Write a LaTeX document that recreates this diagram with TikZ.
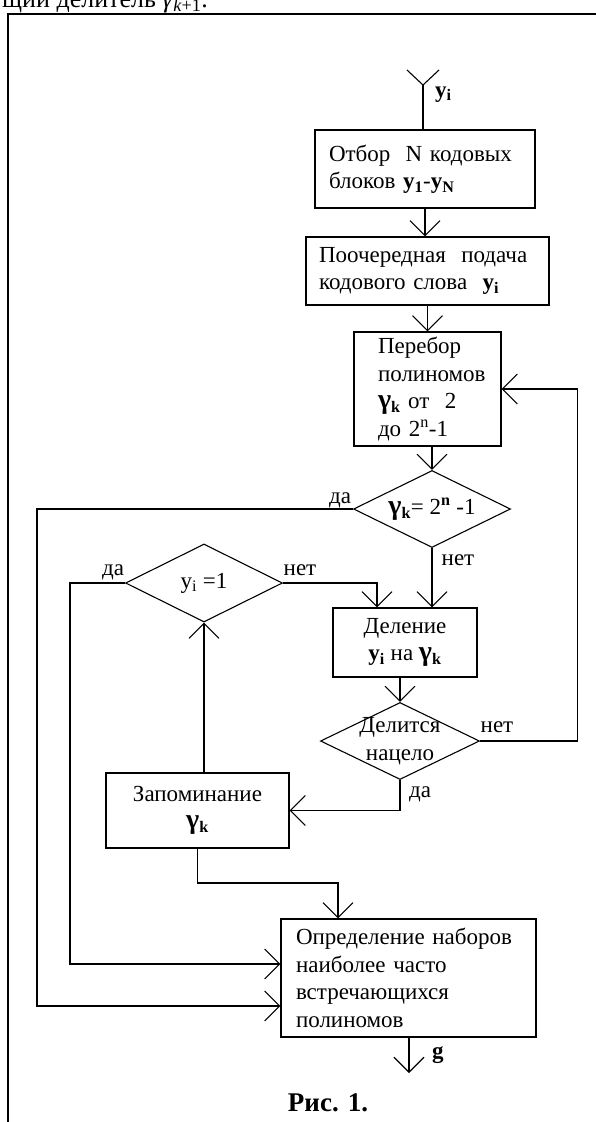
\documentclass[tikz,border=0pt]{standalone}
\usepackage{fontspec}
\setmainfont{Liberation Serif}
\usetikzlibrary{arrows.meta,shapes.geometric}
\newcommand\bY[1]{\textbf{y}\textsubscript{\textbf{#1}}}
\newcommand\bG[1]{{\fontsize{28}{28}\selectfont\textbf{γ}}\textsubscript{\textbf{#1}}}
\begin{document}
\begin{tikzpicture}[x=1pt,y=-1pt,
  every node/.style={font=\fontsize{23}{27.5}\selectfont},
  line/.style={line width=1.1pt},
  arr/.style={line, -{Straight Barb[length=15pt,width=30pt,line width=1.1pt]}},
  box/.style={draw, line width=1.1pt, rectangle, inner sep=0pt},
  dia/.style={draw, line width=1.1pt, diamond, inner sep=0pt},
  lbl/.style={anchor=base, inner sep=0pt}]
\useasboundingbox (0,0) rectangle (596,1122);
\begin{scope}
\clip (0,0) rectangle (596,1122);
\node[anchor=base west, inner sep=0pt, font=\fontsize{26}{30}\selectfont] (top) at (2,7) {щий делитель \textit{γ}\textsubscript{\textit{k}+1}.};
\end{scope}
% frame
\draw[line] (8,1122) -- (8,14) -- (596,14);
% boxes
\node[box, minimum width=220pt, minimum height=78pt, text width=192pt, align=left] (b1) at (425,169) {Отбор\ \ N кодовых\\блоков \bY{1}-\bY{N}};
\node[box, minimum width=243pt, minimum height=68pt, text width=217pt, align=left] (b2) at (427.5,271) {Поочередная\ \ подача\\кодового слова\ \ \bY{i}};
\node[box, minimum width=147pt, minimum height=114pt, text width=99pt, align=left] (b3) at (427.5,389) {Перебор\\полиномов\\\bG{k} от\ \ 2\\до 2\textsuperscript{n}-1};
\node[dia, minimum width=157pt, minimum height=77pt, label={[inner sep=0pt]center:\bG{k}= 2\textsuperscript{\textbf{n}} -1}] (d1) at (432,509) {};
\node[dia, minimum width=157pt, minimum height=78pt, label={[inner sep=0pt]center:y\textsubscript{i} =1}] (d2) at (204,583) {};
\node[box, minimum width=144pt, minimum height=69pt, align=center] (b4) at (405,642.5) {Деление\\\bY{i} на \bG{k}};
\node[dia, minimum width=159pt, minimum height=77pt, label={[inner sep=0pt, align=center]center:Делится\\нацело}] (d3) at (400,741) {};
\node[box, minimum width=183pt, minimum height=75pt, align=center] (b5) at (197.5,810.5) {Запоминание\\\bG{k}};
\node[box, minimum width=255pt, minimum height=118pt, text width=225pt, align=left] (b6) at (408.5,978) {Определение наборов\\наиболее часто\\встречающихся\\полиномов};
% coordinates
\coordinate (in) at (423,85);
\coordinate (out) at (409,1073);
\coordinate (c1) at (37,1006);
\coordinate (c2) at (70,964);
\coordinate (c3) at (338,883);
\coordinate (c4) at (377,583);
% connectors
\draw[line] (in) -- (in |- b1.north);
\draw[line] (in) -- ++(-16,-15);
\draw[line] (in) -- ++(16,-15);
\draw[arr] (b1.south) -- (b1.south |- b2.north);
\draw[arr] (b2.south) -- (b2.south |- b3.north);
\draw[arr] (d1.north |- b3.south) -- (d1.north);
\draw[arr] (d1.south) -- (d1.south |- b4.north);
\draw[arr] (d2.east) -| (c4 |- b4.north);
\draw[arr] (d3.north |- b4.south) -- (d3.north);
\draw[arr] (d3.south) |- (b5.east);
\draw[arr] (d3.east) -| ([xshift=76pt]b3.east) -- (b3.east);
\draw[arr] (d2.south |- b5.north) -- (d2.south);
\draw[arr] (d1.west) -| (c1) -- (c1 -| b6.west);
\draw[arr] (d2.west) -| (c2) -- (c2 -| b6.west);
\draw[arr] (b5.south) |- (c3) -- (c3 |- b6.north);
\draw[arr] (out |- b6.south) -- (out);
% labels
\node[anchor=base west, inner sep=0pt] (lyi) at (435,97) {\bY{i}};
\node[lbl] (l1) at (340,503) {да};
\node[lbl] (l2) at (458,565) {нет};
\node[lbl] (l3) at (113,575) {да};
\node[lbl] (l4) at (300,575) {нет};
\node[lbl] (l5) at (497,732) {нет};
\node[lbl] (l6) at (420,797) {да};
\node[anchor=base west, inner sep=0pt] (lg) at (432,1058) {\textbf{g}};
\node[lbl, font=\fontsize{27}{30}\selectfont\bfseries] (cap) at (328,1111) {Рис. 1.};
\end{tikzpicture}
\end{document}
